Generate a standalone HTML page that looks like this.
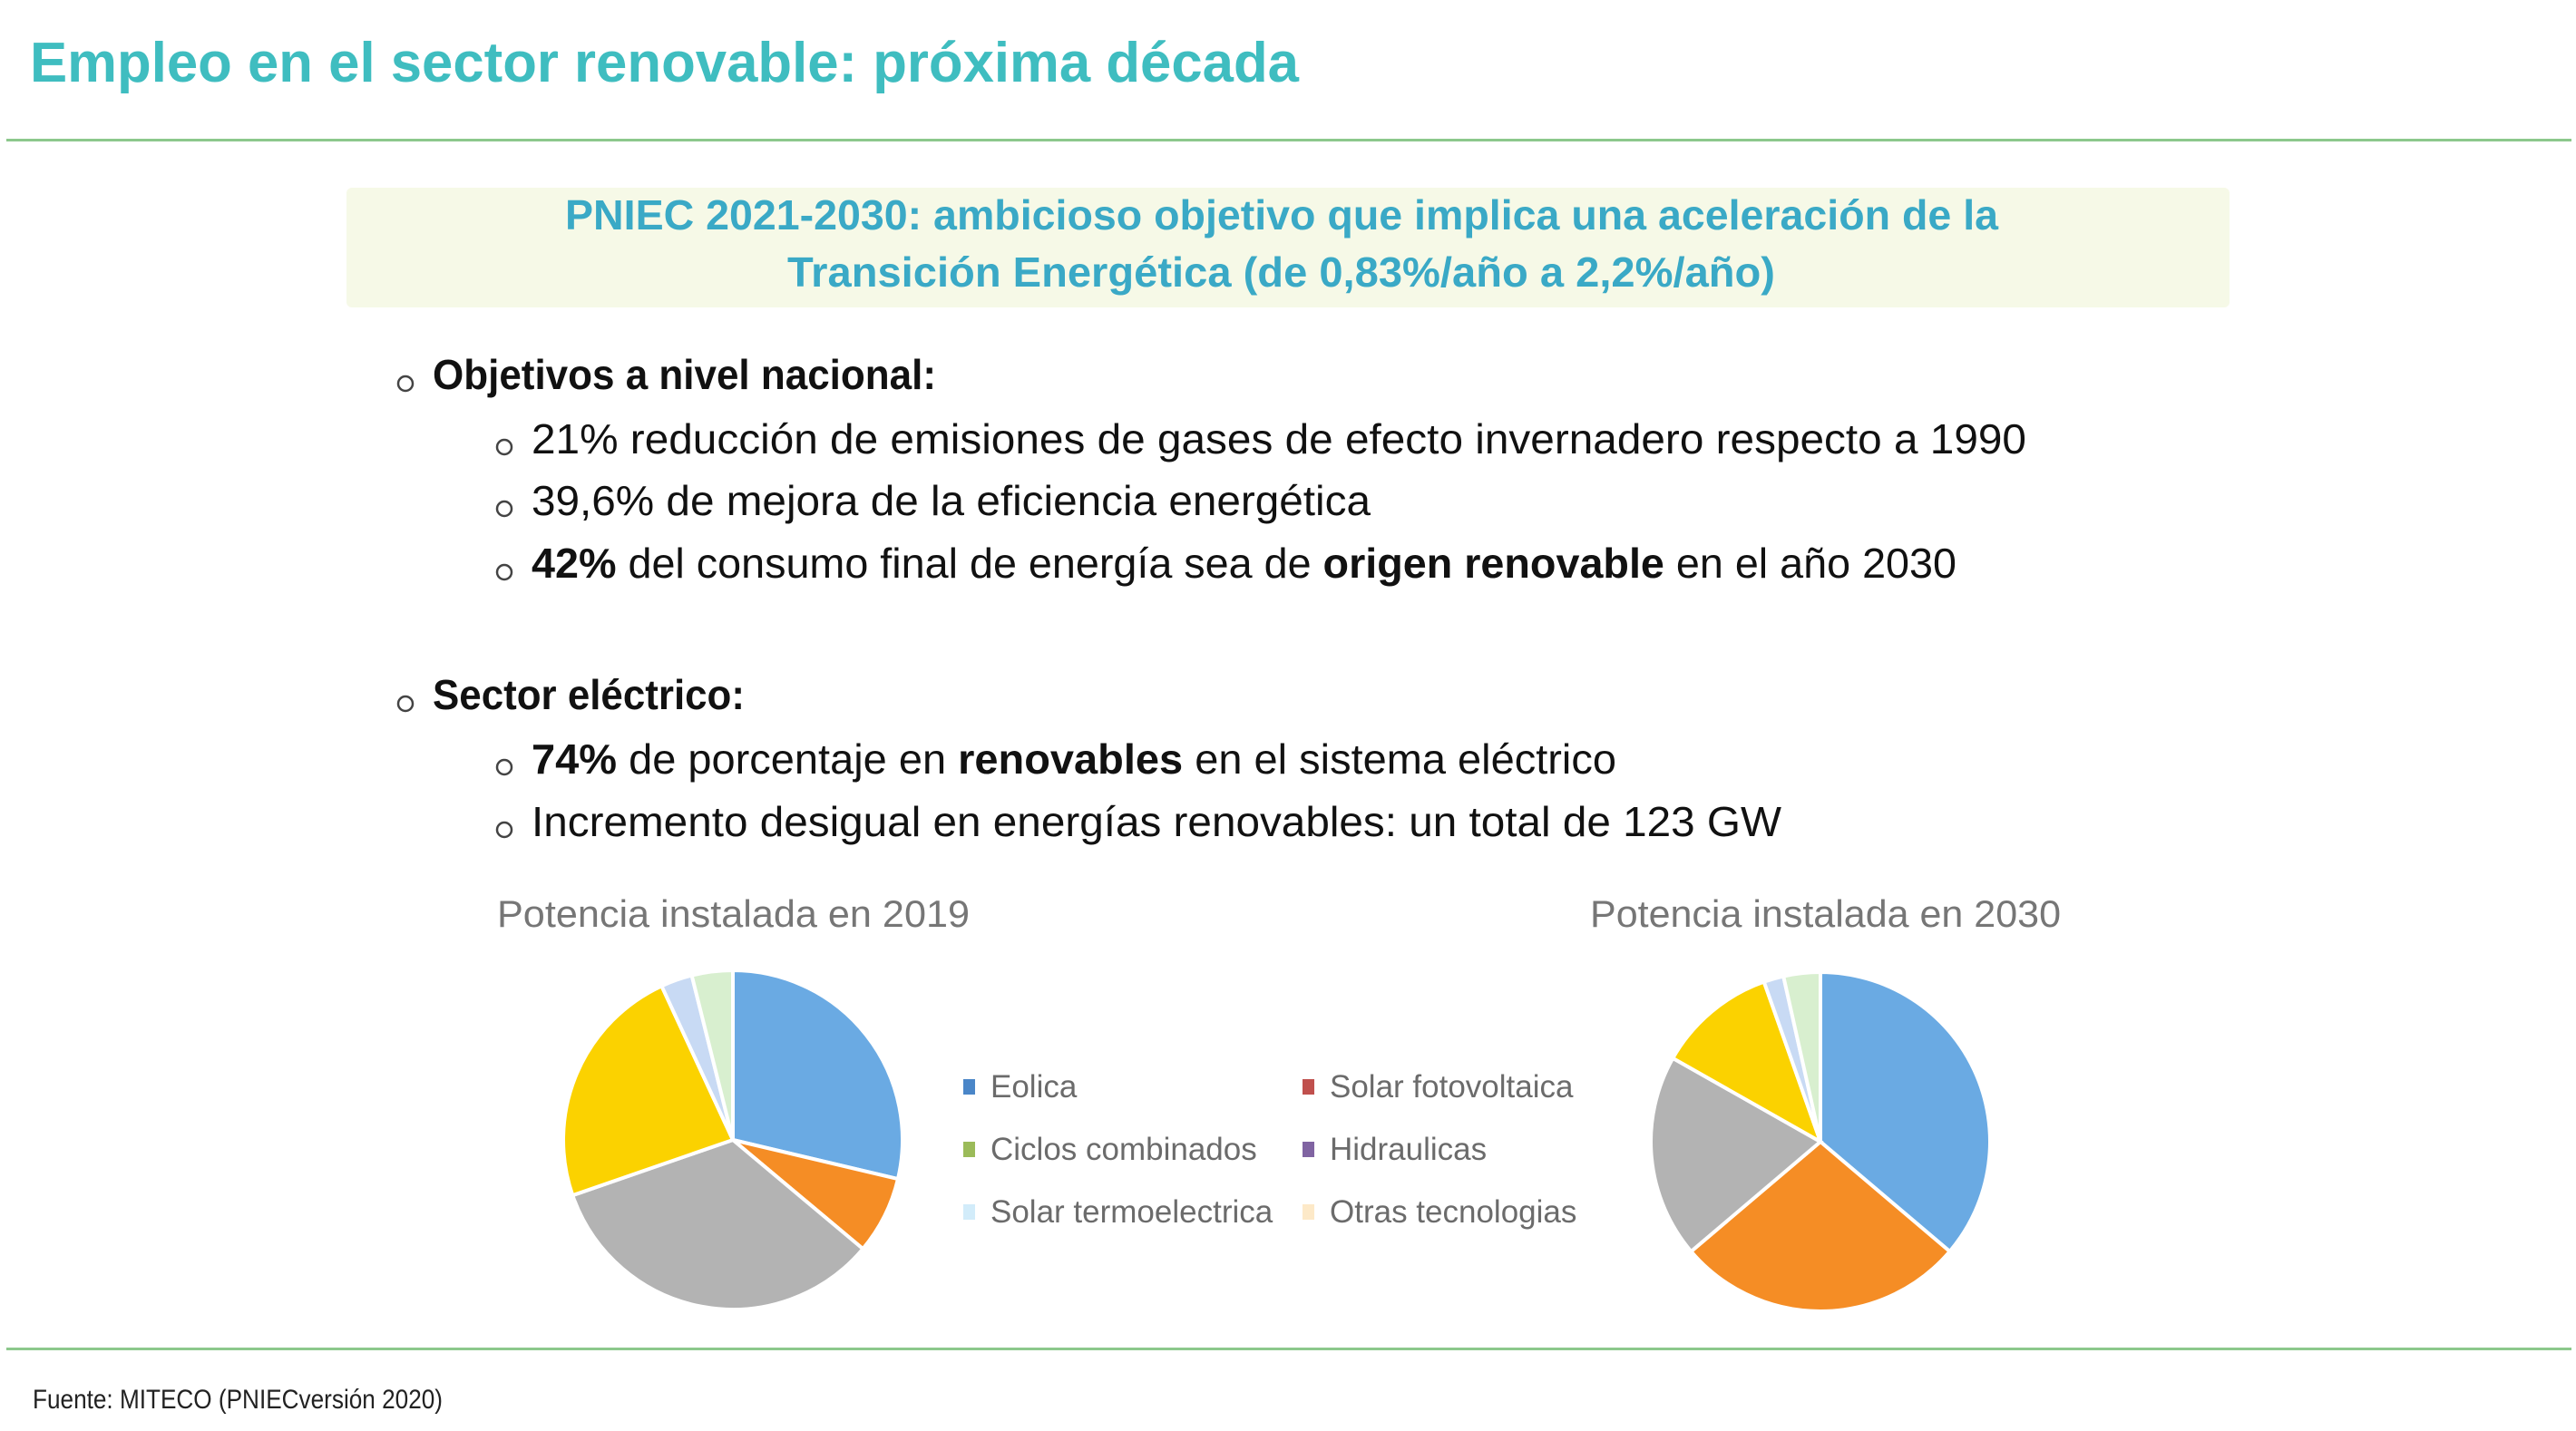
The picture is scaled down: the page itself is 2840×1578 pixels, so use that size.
<!DOCTYPE html>
<html><head><meta charset="utf-8"><style>
html,body{margin:0;padding:0;background:#fff;}
svg{display:block;}
</style></head><body>
<svg id="slide" width="2840" height="1578" viewBox="0 0 2840 1578" xmlns="http://www.w3.org/2000/svg">
<text x="33" y="90" font-family="Liberation Sans, sans-serif" font-weight="bold" font-size="62" fill="#3fbdc0" textLength="1399" lengthAdjust="spacingAndGlyphs">Empleo en el sector renovable: próxima década</text>
<rect x="7" y="153" width="2828" height="3" fill="#8cc88c"/>
<rect x="382" y="207" width="2076" height="132" rx="6" fill="#f6f9e7"/>
<text x="623" y="253" font-family="Liberation Sans, sans-serif" font-weight="bold" font-size="46" fill="#3aa9c6" textLength="1580" lengthAdjust="spacingAndGlyphs">PNIEC 2021-2030: ambicioso objetivo que implica una aceleración de la</text>
<text x="868" y="316" font-family="Liberation Sans, sans-serif" font-weight="bold" font-size="46" fill="#3aa9c6" textLength="1089" lengthAdjust="spacingAndGlyphs">Transición Energética (de 0,83%/año a 2,2%/año)</text>

<g font-family="Liberation Sans, sans-serif" font-size="46" fill="#111">
<circle cx="447" cy="423" r="8" fill="none" stroke="#444" stroke-width="2.5"/>
<text x="477" y="429" font-weight="bold" textLength="555" lengthAdjust="spacingAndGlyphs">Objetivos a nivel nacional:</text>
<circle cx="556" cy="493" r="8" fill="none" stroke="#444" stroke-width="2.5"/>
<text x="586" y="500" textLength="1648" lengthAdjust="spacingAndGlyphs">21% reducción de emisiones de gases de efecto invernadero respecto a 1990</text>
<circle cx="556" cy="561" r="8" fill="none" stroke="#444" stroke-width="2.5"/>
<text x="586" y="568" textLength="925" lengthAdjust="spacingAndGlyphs">39,6% de mejora de la eficiencia energética</text>
<circle cx="556" cy="631" r="8" fill="none" stroke="#444" stroke-width="2.5"/>
<text x="586" y="637" textLength="1571" lengthAdjust="spacingAndGlyphs"><tspan font-weight="bold">42%</tspan> del consumo final de energía sea de <tspan font-weight="bold">origen renovable</tspan> en el año 2030</text>
<circle cx="447" cy="776" r="8" fill="none" stroke="#444" stroke-width="2.5"/>
<text x="477" y="782" font-weight="bold" textLength="344" lengthAdjust="spacingAndGlyphs">Sector eléctrico:</text>
<circle cx="556" cy="846" r="8" fill="none" stroke="#444" stroke-width="2.5"/>
<text x="586" y="853" textLength="1196" lengthAdjust="spacingAndGlyphs"><tspan font-weight="bold">74%</tspan> de porcentaje en <tspan font-weight="bold">renovables</tspan> en el sistema eléctrico</text>
<circle cx="556" cy="915" r="8" fill="none" stroke="#444" stroke-width="2.5"/>
<text x="586" y="922" textLength="1378" lengthAdjust="spacingAndGlyphs">Incremento desigual en energías renovables: un total de 123 GW</text>
</g>

<text x="548" y="1022" font-family="Liberation Sans, sans-serif" font-size="42" fill="#767676" textLength="521" lengthAdjust="spacingAndGlyphs">Potencia instalada en 2019</text>
<text x="1753" y="1022" font-family="Liberation Sans, sans-serif" font-size="42" fill="#767676" textLength="519" lengthAdjust="spacingAndGlyphs">Potencia instalada en 2030</text>
<g id="pie2019"></g>
<g id="pie2030"></g>
<g id="legend"></g>

<rect x="7" y="1486" width="2828" height="3" fill="#8cc88c"/>
<text x="36" y="1553" font-family="Liberation Sans, sans-serif" font-size="30" fill="#222" textLength="452" lengthAdjust="spacingAndGlyphs">Fuente: MITECO (PNIECversión 2020)</text>
</svg>
<script>
const sliceColors = ["#6aaae3","#f58d25","#b3b3b3","#fbd200","#c8daf4","#d8efcf"];
const values2019 = [28.7, 7.4, 33.6, 23.4, 3.0, 3.9];
const values2030 = [36.2, 27.6, 19.4, 11.4, 1.9, 3.5];
const legendLabels = ["Eolica","Solar fotovoltaica","Ciclos combinados","Hidraulicas","Solar termoelectrica","Otras tecnologias"];
const legendColors = ["#4a86c8","#c0504d","#9bbb59","#8064a2","#d2ecfa","#fde9c8"];
const NS = "http://www.w3.org/2000/svg";
function drawPie(gid, vals, cx, cy, r, prefix){
  const g = document.getElementById(gid);
  const total = vals.reduce((a,b)=>a+b,0);
  let a0 = 0;
  vals.forEach((v,i)=>{
    const a1 = a0 + v/total*2*Math.PI;
    const x0 = cx + r*Math.sin(a0), y0 = cy - r*Math.cos(a0);
    const x1 = cx + r*Math.sin(a1), y1 = cy - r*Math.cos(a1);
    const large = (a1-a0) > Math.PI ? 1 : 0;
    const p = document.createElementNS(NS,"path");
    p.setAttribute("d", `M${cx},${cy} L${x0},${y0} A${r},${r} 0 ${large} 1 ${x1},${y1} Z`);
    p.setAttribute("fill", sliceColors[i]);
    p.setAttribute("stroke", "#fff");
    p.setAttribute("stroke-width", "4");
    
    
    g.appendChild(p);
    a0 = a1;
  });
}
drawPie("pie2019", values2019, 808, 1257, 187, "pie-2019");
drawPie("pie2030", values2030, 2007, 1259, 187, "pie-2030");
const lg = document.getElementById("legend");
const colX = [1062, 1436], rowY = [1210, 1279, 1348];
legendLabels.forEach((lab,i)=>{
  const c = i%2, r = Math.floor(i/2);
  const sq = document.createElementNS(NS,"rect");
  sq.setAttribute("x", colX[c]); sq.setAttribute("y", rowY[r]-20);
  sq.setAttribute("width", 13); sq.setAttribute("height", 17);
  sq.setAttribute("fill", legendColors[i]);
  
  
  lg.appendChild(sq);
  const t = document.createElementNS(NS,"text");
  t.setAttribute("x", colX[c]+30); t.setAttribute("y", rowY[r]);
  t.setAttribute("font-family","Liberation Sans, sans-serif");
  t.setAttribute("font-size","35"); t.setAttribute("fill","#6b6b6b");
  t.textContent = lab;
  
  
  lg.appendChild(t);
});
</script>
</body></html>
